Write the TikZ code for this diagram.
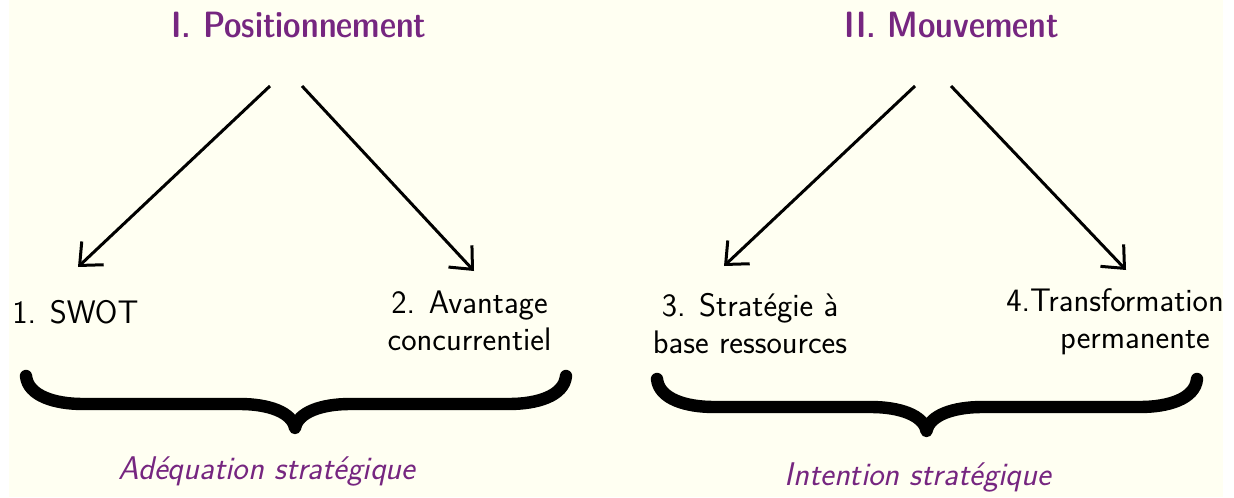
\documentclass[tikz,border=0pt]{standalone}
\usepackage{fontspec}
\setsansfont{Latin Modern Sans}
\newfontfamily\titlefont{lmsansdemicond10-regular.otf}
\usetikzlibrary{arrows.meta}
\definecolor{cream}{RGB}{255,255,242}
\definecolor{titlepurple}{RGB}{118,38,128}
\renewcommand{\familydefault}{\sfdefault}
\tikzset{
  titletext/.style={inner sep=0pt, text=titlepurple, font=\titlefont\fontsize{18.3pt}{22pt}\selectfont},
  item/.style={inner sep=0pt, align=center, font=\sffamily\fontsize{16.3pt}{18.5pt}\selectfont},
  summary/.style={inner sep=0pt, text=titlepurple, font=\sffamily\itshape\fontsize{16.4pt}{19pt}\selectfont},
  arr/.style={line width=1.5pt, -{Straight Barb[length=9pt,width=16pt,line width=1.5pt]}},
  bigbrace/.style={line width=6.2pt, line cap=round, line join=round}
}
\begin{document}
\begin{tikzpicture}[x=0.5pt,y=-0.5pt]
\useasboundingbox (0,0) rectangle (1234,497);
\fill[white] (0,0) rectangle (1234,497);
\fill[cream] (9,0) rectangle (1223,497);

\node[titletext, anchor=base] (t1) at (299,38) {I. Positionnement};
\node[titletext, anchor=base] (t2) at (952,38) {II. Mouvement};

\coordinate (a1s) at (270,86);  \coordinate (a1e) at (78,267);
\coordinate (a2s) at (302,86);  \coordinate (a2e) at (474,271);
\coordinate (a3s) at (915,86);  \coordinate (a3e) at (724,266);
\coordinate (a4s) at (951,86);  \coordinate (a4e) at (1126,270);
\draw[arr] (a1s) -- (a1e);
\draw[arr] (a2s) -- (a2e);
\draw[arr] (a3s) -- (a3e);
\draw[arr] (a4s) -- (a4e);

\node[item, anchor=base west] (l1) at (12,323) {1. SWOT};
\node[item, anchor=base] (l2) at (469.5,350) {2. Avantage\\concurrentiel};
\node[item, anchor=base] (l3) at (750,353) {3. Strat\'egie \`a\\base ressources};
\node[item, anchor=base] (l4) at (1135,348) {\hspace*{-20pt}4.Transformation\\permanente};

% left brace
\draw[bigbrace] (26,376) .. controls (28,396) and (55,404) .. (83,404) -- (240,404)
  .. controls (268,404) and (292,412) .. (295,428)
  .. controls (298,412) and (322,404) .. (350,404) -- (509,404)
  .. controls (537,404) and (564,396) .. (566,376);
% right brace
\draw[bigbrace] (657,379) .. controls (659,399) and (686,407) .. (714,407) -- (871,407)
  .. controls (899,407) and (923.5,415) .. (926.5,431)
  .. controls (929.5,415) and (954,407) .. (982,407) -- (1140,407)
  .. controls (1168,407) and (1195,399) .. (1197,379);

\node[summary, anchor=base] (s1) at (267,479) {Ad\'equation strat\'egique};
\node[summary, anchor=base] (s2) at (918,485) {Intention strat\'egique};
\end{tikzpicture}
\end{document}
